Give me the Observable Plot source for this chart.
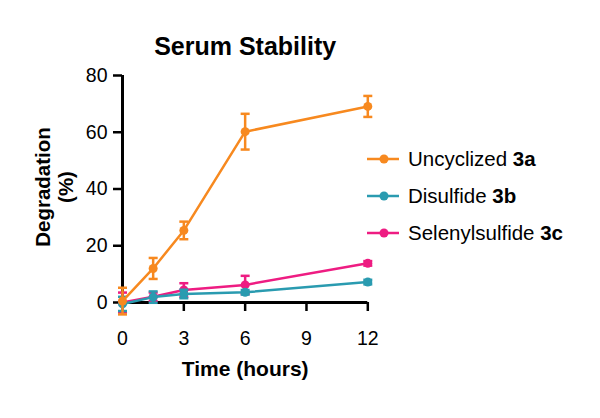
<!DOCTYPE html>
<html>
<head>
<meta charset="utf-8">
<script src="https://cdn.jsdelivr.net/npm/d3@7"></script>
<script src="https://cdn.jsdelivr.net/npm/@observablehq/plot@0.6"></script>
<style>
  html, body { margin: 0; padding: 0; background: #fff; }
  #wrap { position: relative; width: 600px; height: 418px; font-family: "Liberation Sans", Arial, sans-serif; }
  #legend { position: absolute; left: 366px; top: 140px; font-size: 20.5px; color: #000; }
  #legend .row { display: flex; align-items: center; height: 37px; }
  #legend svg { margin-right: 8px; }
</style>
</head>
<body>
<div id="wrap"><div id="legend"></div></div>
<script>
const times = [0, 1.5, 3, 6, 12];
const seriesNames = ["Uncyclized", "Disulfide", "Selenylsulfide"];
const seriesTags = ["3a", "3b", "3c"];
const seriesColors = ["#F7891F", "#2A9BB0", "#EE1C82"];
const uncyclized = [0.5, 12.0, 25.4, 60.2, 69.1];
const uncyclizedErr = [4.7, 3.7, 3.1, 6.3, 3.7];
const disulfide = [-0.5, 1.9, 3.0, 3.6, 7.2];
const disulfideErr = [2.5, 2.0, 1.5, 0.8, 0.8];
const selenyl = [0.0, 2.0, 4.4, 6.2, 13.8];
const selenylErr = [3.5, 1.5, 2.4, 3.2, 0.8];
const xTicks = [0, 3, 6, 9, 12];
const yTicks = [0, 20, 40, 60, 80];

const valuesBySeries = [uncyclized, disulfide, selenyl];
const errBySeries = [uncyclizedErr, disulfideErr, selenylErr];
const rows = [];
[2, 1, 0].forEach(s => {
  times.forEach((t, i) => {
    rows.push({series: seriesNames[s], t, v: valuesBySeries[s][i], e: errBySeries[s][i]});
  });
});

const capSymbol = {
  draw(context, size) {
    const w = Math.sqrt(size / Math.PI);
    context.moveTo(-w, 0);
    context.lineTo(w, 0);
  }
};

const font = '"Liberation Sans", Arial, sans-serif';
const plot = Plot.plot({
  width: 600,
  height: 418,
  marginLeft: 122,
  marginRight: 232.7,
  marginTop: 75,
  marginBottom: 116,
  style: {fontFamily: font, color: "#000", background: "transparent", overflow: "visible"},
  x: {domain: [0, 12]},
  y: {domain: [0, 80]},
  marks: [
    Plot.axisY({ticks: yTicks, tickSize: 9, tickPadding: 6, fontSize: 19.5, strokeWidth: 2.5, stroke: "#000", label: null}),
    Plot.axisX({ticks: xTicks, tickSize: 9, tickPadding: 20, fontSize: 19.5, strokeWidth: 2.5, stroke: "#000", label: null}),
    Plot.ruleX([0], {y1: 0, y2: 80, stroke: "#000", strokeWidth: 3}),
    Plot.ruleY([0], {x1: 0, x2: 12, stroke: "#000", strokeWidth: 3}),
    ...[2, 1, 0].map(s => {
      const d = rows.filter(r => r.series === seriesNames[s]);
      return [
        Plot.line(d, {x: "t", y: "v", stroke: seriesColors[s], strokeWidth: 2.5}),
        Plot.link(d, {x1: "t", x2: "t", y1: r => r.v - r.e, y2: r => r.v + r.e, stroke: seriesColors[s], strokeWidth: 2.5}),
        Plot.dot(d, {x: "t", y: r => r.v + r.e, symbol: capSymbol, r: 4.5, stroke: seriesColors[s], strokeWidth: 2.5, fill: "none"}),
        Plot.dot(d, {x: "t", y: r => r.v - r.e, symbol: capSymbol, r: 4.5, stroke: seriesColors[s], strokeWidth: 2.5, fill: "none"}),
        Plot.dot(d, {x: "t", y: "v", r: 4.5, fill: seriesColors[s], stroke: "none"})
      ];
    }),
    Plot.text(["Serum Stability"], {frameAnchor: "top", dy: -38, text: d => d, fontSize: 25, fontWeight: "bold", fill: "#000"}),
    Plot.text(["Time (hours)"], {frameAnchor: "bottom", dy: 73, text: d => d, fontSize: 21, fontWeight: "bold", fill: "#000"}),
    Plot.text(["Degradation\n(%)"], {frameAnchor: "left", textAnchor: "middle", lineAnchor: "middle", dx: -68, dy: -2, rotate: -90, text: d => d, fontSize: 20.5, fontWeight: "bold", fill: "#000", lineHeight: 1.12})
  ]
});
document.getElementById("wrap").prepend(plot);

const legend = document.getElementById("legend");
seriesNames.forEach((name, i) => {
  const row = document.createElement("div");
  row.className = "row";
  row.innerHTML = `<svg width="34" height="12"><line x1="1" x2="33" y1="6" y2="6" stroke="${seriesColors[i]}" stroke-width="2.5"/><circle cx="18" cy="6" r="4.5" fill="${seriesColors[i]}"/></svg><span>${name} <b>${seriesTags[i]}</b></span>`;
  legend.appendChild(row);
});
</script>
</body>
</html>
